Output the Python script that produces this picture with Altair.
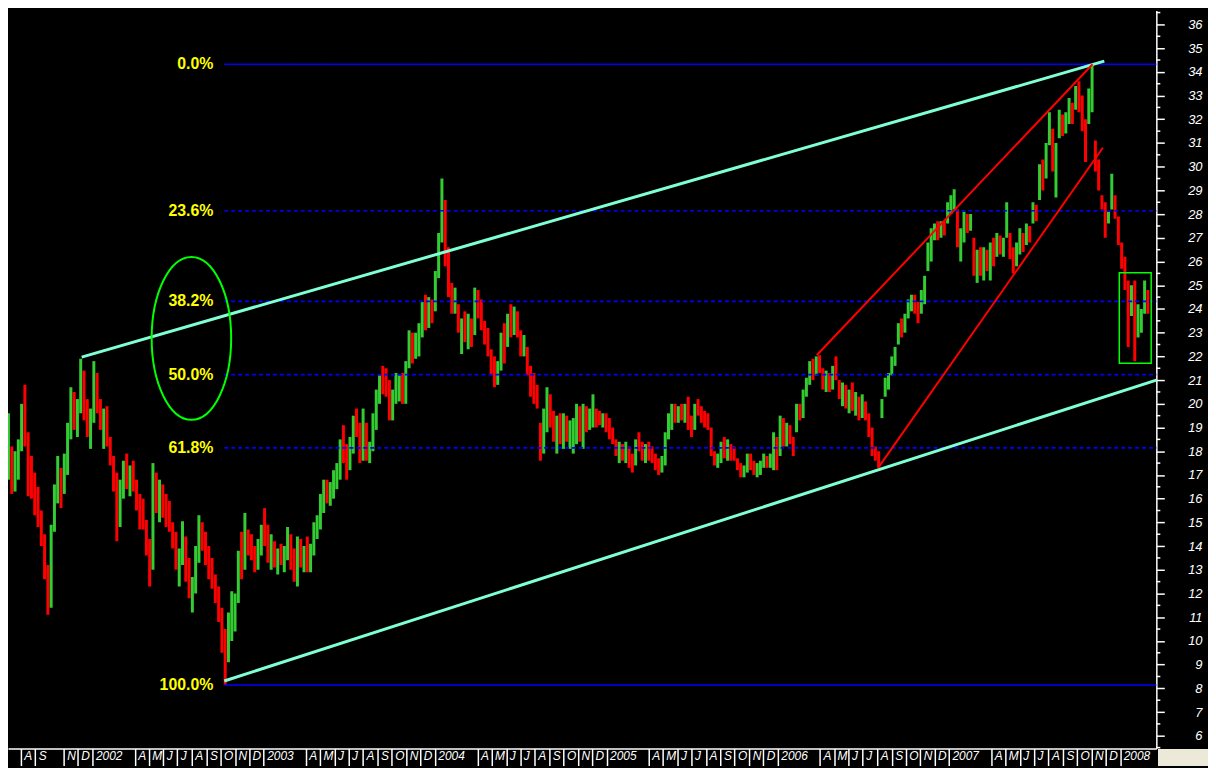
import altair as alt
import pandas as pd

# ---------------- weekly price bars ----------------
first_week = "2001-06-22"

low = [
    16.6, 16.4, 16.8, 16.2, 16.3, 16.8, 18.0, 18.2, 16.1, 16.0,
    15.3, 14.8, 14.0, 12.6, 11.1, 11.4, 14.6, 15.8, 15.6, 16.2,
    17.0, 18.5, 18.9, 18.6, 19.6, 19.3, 18.6, 18.1, 19.2, 19.6,
    18.9, 18.1, 18.2, 17.4, 16.3, 14.2, 14.8, 16.0, 16.4, 16.1,
    16.3, 15.5, 14.7, 14.7, 13.6, 12.3, 13.0, 15.4, 15.0, 15.2,
    14.8, 14.6, 13.9, 13.0, 12.3, 13.2, 12.5, 11.8, 11.2, 12.0,
    13.3, 13.8, 13.2, 12.6, 12.2, 11.6, 10.8, 9.5, 8.14, 9.1,
    10.0, 10.4, 11.6, 12.6, 13.0, 13.6, 13.4, 12.9, 13.0, 13.6,
    14.0, 13.3, 13.0, 13.1, 12.8, 13.2, 12.9, 13.4, 13.0, 12.5,
    12.3, 13.1, 12.9, 12.9, 12.9, 13.6, 14.3, 14.7, 15.4, 15.8,
    15.7, 16.0, 16.4, 16.8, 17.5, 16.8, 17.2, 17.9, 18.6, 17.5,
    17.6, 17.6, 17.5, 18.0, 18.9, 20.0, 20.4, 20.3, 19.3, 19.3,
    20.0, 20.1, 20.0, 20.0, 21.5, 21.7, 21.9, 22.0, 22.8, 23.1,
    23.2, 23.4, 23.9, 25.3, 26.8, 25.8, 24.5, 23.8, 23.8, 23.0,
    22.1, 22.6, 22.3, 22.4, 22.9, 23.6, 23.1, 22.5, 22.0, 21.2,
    20.7, 20.8, 21.4, 21.7, 22.4, 22.8, 22.9, 22.8, 22.0, 22.0,
    21.2, 20.3, 20.0, 19.8, 17.6, 17.9, 18.8, 19.0, 18.4, 17.9,
    18.3, 18.1, 18.4, 18.1, 17.9, 18.3, 18.4, 18.1, 18.8, 18.9,
    19.0, 19.0, 19.1, 19.0, 18.8, 18.5, 18.3, 17.8, 17.5, 17.6,
    17.5, 17.3, 17.1, 17.4, 18.0, 17.6, 17.5, 17.6, 17.5, 17.2,
    17.0, 17.1, 17.4, 18.5, 18.9, 19.2, 19.2, 19.3, 19.2, 18.9,
    18.6, 18.9, 19.5, 19.2, 19.0, 18.9, 17.8, 17.4, 17.3, 17.5,
    17.7, 17.6, 17.6, 17.6, 17.2, 16.9, 16.9, 17.1, 17.2, 17.0,
    16.9, 17.0, 17.3, 17.3, 17.3, 17.2, 17.2, 17.8, 18.2, 18.2,
    18.3, 17.8, 18.8, 19.3, 19.4, 20.3, 20.8, 21.0, 21.2, 21.3,
    20.6, 20.5, 20.5, 20.6, 21.0, 20.2, 19.9, 19.8, 19.6, 19.7,
    19.5, 19.3, 19.4, 19.3, 18.6, 17.8, 17.6, 17.3, 19.4, 20.3,
    20.6, 21.2, 21.6, 22.5, 22.8, 23.0, 23.6, 23.9, 23.8, 23.4,
    23.8, 24.2, 25.6, 26.0, 26.9, 26.9, 27.0, 27.1, 27.6, 28.0,
    28.2, 26.6, 26.0, 26.8, 27.2, 27.3, 25.4, 25.1, 25.4, 25.2,
    25.6, 25.2, 25.8, 26.2, 26.3, 26.2, 27.0, 26.1, 25.5, 25.8,
    26.3, 26.4, 26.7, 26.8, 27.6, 27.7, 28.6, 29.0, 29.5, 30.9,
    29.8, 28.7, 31.2, 31.3, 31.4, 31.8, 31.8, 32.4, 32.3, 31.5,
    30.2, 31.8, 32.3, 29.8, 29.0, 28.2, 27.0, 27.6, 28.2, 27.8,
    26.7, 25.7, 24.8, 22.4, 23.7, 21.8, 22.8, 23.0, 23.8, 23.8,
]

high = [
    20.3, 19.2, 19.6, 18.2, 18.0, 18.5, 20.0, 20.8, 18.8, 17.8,
    17.1, 16.5, 15.5, 14.5, 13.2, 14.9, 16.6, 17.8, 17.3, 17.9,
    19.2, 20.7, 20.5, 20.2, 21.9, 21.4, 20.2, 19.8, 21.8, 21.3,
    20.2, 19.8, 19.9, 18.6, 17.8, 17.1, 16.8, 17.6, 17.9, 17.4,
    17.6, 16.8, 16.2, 16.0, 15.1, 14.3, 17.5, 17.1, 16.8, 16.6,
    16.2, 15.9, 15.0, 14.6, 13.9, 15.05, 14.4, 13.5, 12.7, 14.0,
    15.3, 15.0, 14.6, 14.0, 13.5, 12.8, 12.3, 11.4, 10.5, 11.2,
    12.1, 12.0, 13.8, 14.6, 15.4, 14.7, 14.5, 14.0, 14.3, 14.9,
    15.6, 14.9, 14.5, 14.2, 13.9, 14.1, 14.0, 14.8, 14.5, 13.9,
    14.4, 14.3, 14.0, 14.4, 14.1, 15.0, 15.3, 16.2, 16.8, 16.8,
    16.7, 17.2, 17.5, 18.5, 19.1, 18.3, 18.6, 19.5, 19.8, 19.2,
    19.8, 19.2, 18.4, 19.6, 20.6, 21.2, 21.6, 21.5, 21.0, 20.6,
    21.3, 21.2, 21.3, 21.8, 23.1, 23.0, 23.0, 23.4, 24.3, 24.6,
    24.5, 24.4, 25.6, 27.2, 29.5, 28.6, 26.6, 25.1, 24.9, 24.2,
    23.6, 23.9, 23.8, 23.6, 24.9, 24.8, 24.4, 23.5, 23.2, 22.3,
    22.0, 21.8, 23.0, 23.4, 23.8, 24.2, 24.1, 23.9, 23.1, 22.9,
    22.4, 21.6, 21.3, 20.8, 19.2, 19.8, 20.7, 20.4, 19.7, 19.5,
    19.6, 19.6, 19.5, 19.3, 19.4, 20.0, 19.9, 20.0, 19.9, 19.8,
    20.4, 19.8, 19.7, 19.6, 19.6, 19.4, 19.0, 18.5, 18.4, 18.3,
    18.4, 18.2, 17.9, 18.5, 18.8, 18.4, 18.3, 18.4, 18.2, 17.9,
    17.7, 17.8, 18.8, 19.6, 20.0, 20.0, 19.9, 20.0, 20.0, 20.3,
    19.5, 20.0, 20.2, 19.9, 19.7, 19.6, 19.0, 18.0, 17.9, 18.4,
    18.6, 18.5, 18.3, 18.2, 17.7, 17.5, 17.4, 17.9, 17.9, 17.6,
    17.5, 17.6, 17.9, 17.8, 17.9, 18.8, 18.6, 19.5, 19.4, 19.2,
    19.1, 18.6, 20.0, 20.0, 20.6, 21.1, 21.8, 21.9, 22.0, 22.05,
    21.5, 21.4, 21.3, 21.6, 22.0, 21.0, 20.9, 20.8, 20.6, 20.9,
    20.5, 20.3, 20.4, 20.1, 19.6, 19.0, 18.2, 18.0, 20.2, 21.1,
    21.3, 22.0, 22.4, 23.4, 23.6, 23.8, 24.4, 24.6, 24.6, 24.3,
    24.8, 25.4, 26.8, 27.4, 27.6, 27.7, 27.7, 27.7, 28.5, 28.8,
    29.05, 28.2, 27.4, 28.1, 28.0, 28.0, 27.0, 26.5, 26.6, 26.6,
    26.5, 26.8, 27.0, 27.2, 27.1, 27.0, 28.5, 27.2, 26.6, 26.8,
    27.4, 27.2, 27.6, 27.5, 28.5, 28.4, 30.1, 30.3, 31.0, 32.3,
    31.6, 31.0, 32.4, 32.2, 32.3, 32.9, 32.7, 33.4, 33.6, 33.0,
    32.0, 33.3, 34.32, 31.1, 30.3, 28.8, 28.5, 28.1, 29.7, 28.8,
    27.9, 26.8, 26.2, 25.2, 25.0, 25.2, 24.2, 24.0, 25.2, 24.8,
]

close = [
    19.0, 16.9, 17.5, 17.0, 17.6, 18.2, 19.6, 18.6, 17.0, 16.5,
    15.8, 15.0, 14.3, 12.9, 11.6, 14.5, 16.2, 17.2, 16.8, 17.6,
    18.9, 20.1, 19.4, 19.8, 21.2, 19.8, 18.9, 19.4, 21.0, 20.0,
    19.2, 19.5, 18.5, 17.6, 16.6, 15.0, 16.5, 17.1, 16.8, 16.9,
    16.6, 15.8, 15.2, 15.0, 14.0, 13.2, 16.8, 15.8, 16.3, 15.6,
    15.1, 14.9, 14.2, 13.4, 13.5, 14.2, 12.9, 12.1, 12.4, 13.8,
    14.8, 14.1, 13.5, 13.0, 12.5, 12.0, 11.2, 9.9, 9.8, 10.8,
    11.0, 11.8, 13.5, 13.1, 14.8, 14.0, 13.6, 13.2, 14.0, 14.6,
    14.3, 13.6, 13.9, 13.4, 13.6, 13.5, 13.8, 14.2, 13.3, 13.0,
    13.9, 13.4, 13.7, 13.2, 13.8, 14.8, 15.1, 15.9, 16.4, 16.0,
    16.3, 16.9, 17.2, 18.2, 18.0, 17.4, 18.3, 19.2, 19.0, 17.9,
    19.5, 18.0, 18.2, 19.4, 20.3, 21.0, 20.9, 20.6, 19.6, 20.3,
    20.4, 20.8, 20.5, 21.6, 22.8, 22.1, 22.6, 23.1, 24.0, 23.5,
    24.2, 23.7, 25.3, 26.9, 28.0, 26.3, 25.0, 24.3, 24.6, 23.3,
    23.3, 22.9, 23.5, 22.8, 24.6, 23.9, 23.4, 22.8, 22.3, 21.5,
    21.2, 21.6, 22.7, 22.3, 23.6, 23.2, 23.8, 23.0, 22.3, 22.4,
    21.5, 20.6, 20.4, 20.1, 18.2, 19.5, 20.2, 19.3, 18.7, 19.1,
    18.6, 19.3, 18.7, 18.9, 19.1, 19.7, 18.8, 19.6, 19.2, 19.5,
    19.7, 19.4, 19.3, 19.5, 19.1, 18.7, 18.5, 18.0, 18.2, 17.8,
    18.1, 17.6, 17.3, 18.3, 18.2, 17.9, 18.0, 17.8, 17.7, 17.4,
    17.2, 17.6, 18.6, 19.3, 19.7, 19.5, 19.6, 19.5, 19.8, 19.0,
    18.9, 19.8, 19.7, 19.4, 19.2, 19.1, 18.0, 17.6, 17.7, 18.2,
    17.9, 18.1, 17.8, 17.7, 17.3, 17.1, 17.2, 17.7, 17.4, 17.2,
    17.3, 17.4, 17.6, 17.5, 17.8, 18.5, 17.5, 19.2, 18.6, 18.9,
    18.5, 18.2, 19.8, 19.6, 20.4, 20.9, 21.5, 21.3, 21.8, 21.6,
    20.8, 21.1, 20.8, 21.4, 21.3, 20.4, 20.6, 20.1, 20.3, 20.0,
    20.2, 19.6, 20.0, 19.5, 18.9, 18.1, 17.8, 17.5, 20.0, 20.9,
    21.1, 21.8, 22.2, 23.2, 23.0, 23.6, 24.2, 24.3, 24.0, 23.7,
    24.6, 25.2, 26.5, 26.8, 27.3, 27.1, 27.5, 27.4, 28.2, 28.4,
    28.5, 26.9, 27.1, 27.8, 27.5, 27.6, 25.8, 26.2, 25.7, 26.3,
    25.9, 26.5, 26.3, 26.9, 26.6, 26.8, 27.5, 26.4, 26.0, 26.5,
    27.1, 26.7, 27.3, 27.2, 28.3, 28.0, 29.8, 29.4, 30.8, 31.6,
    30.2, 30.7, 32.0, 31.6, 32.1, 32.4, 32.3, 33.1, 32.8, 31.9,
    31.6, 32.9, 33.6, 30.2, 29.4, 28.5, 27.4, 27.9, 29.3, 28.0,
    27.0, 26.0, 25.2, 23.8, 24.5, 22.9, 23.5, 23.8, 24.9, 24.2,
]

# ---------------- Fibonacci retracement levels ----------------
fib_labels = ["0.0%", "23.6%", "38.2%", "50.0%", "61.8%", "100.0%"]
fib_values = [34.32, 28.14, 24.32, 21.23, 18.14, 8.14]
fib_styles = ["solid", "dashed", "dashed", "dashed", "dashed", "solid"]
fib_start = "2002-10-09"
fib_end = "2008-03-18"
fib_label_date = "2002-09-16"

# ---------------- channel and trend lines ----------------
channel_names = ["upper", "upper", "lower", "lower"]
channel_dates = ["2001-12-09", "2007-11-28", "2002-10-09", "2008-03-18"]
channel_prices = [21.97, 34.45, 8.31, 21.0]

trend_names = ["t1", "t1", "t2", "t2"]
trend_dates = ["2006-03-25", "2007-11-03", "2006-08-03", "2007-11-25"]
trend_prices = [22.05, 34.32, 17.3, 30.8]

# ---------------- annotations ----------------
ellipse_dates = ["2002-07-31"]
ellipse_prices = [22.76]
box_dates = ["2007-12-30", "2008-03-07"]
box_prices = [25.53, 21.71]

y_ticks = list(range(6, 37))
y_minor = [v + 0.5 for v in range(5, 37)]

# ---------------- tables ----------------
dates = pd.date_range(first_week, periods=len(low), freq="7D").strftime("%Y-%m-%d")
prev_close = [close[0]] + close[:-1]
bars = pd.DataFrame({
    "date": dates, "low": low, "high": high, "close": close,
    "dir": ["up" if c >= p else "down" for c, p in zip(close, prev_close)],
})
fib = pd.DataFrame({
    "label": fib_labels, "price": fib_values, "style": fib_styles,
    "date": fib_start, "date2": fib_end, "ldate": fib_label_date,
})
channel = pd.DataFrame({"name": channel_names, "date": channel_dates, "price": channel_prices})
trend = pd.DataFrame({"name": trend_names, "date": trend_dates, "price": trend_prices})
ellipse = pd.DataFrame({"date": ellipse_dates, "price": ellipse_prices})
box = pd.DataFrame({"date": [box_dates[0]], "date2": [box_dates[1]],
                    "price": [box_prices[0]], "price2": [box_prices[1]]})
minor = pd.DataFrame({"price": y_minor})

# ---------------- scales and axes ----------------
# page has an 8px margin: plot spans page x 8..1164 and page y 8..751
W, H = 1156, 743
x_scale = alt.Scale(type="utc", domain=[
    alt.DateTime(year=2001, month=7, date=5, utc=True),
    alt.DateTime(year=2008, month=3, date=18, utc=True)])
y_scale = alt.Scale(domain=[5.459, 36.587], nice=False, zero=False)

month_ticks = []
for yr in range(2001, 2009):
    for mo in range(1, 13):
        if (yr, mo) < (2001, 8) or (yr, mo) > (2008, 1):
            continue
        if mo in (2, 3) or (yr, mo) == (2001, 10):
            continue
        month_ticks.append(alt.DateTime(year=yr, month=mo, date=1, utc=True))

x_axis = alt.Axis(
    orient="bottom", values=month_ticks, grid=False, title=None,
    labelExpr="utcmonth(datum.value) == 0 ? utcFormat(datum.value, '%Y') : slice(utcFormat(datum.value, '%b'), 0, 1)",
    domainColor="white", domainWidth=1.5, tickColor="white", tickSize=17, tickWidth=1.5,
    labelColor="white", labelFont="Liberation Sans", labelFontSize=12, labelFontStyle="italic",
    labelAlign="left", labelBaseline="top", labelPadding=-15, labelOffset=3,
    labelOverlap=False, labelFlush=False, labelBound=False)
y_axis = alt.Axis(
    orient="right", values=y_ticks, grid=False, title=None,
    domainColor="white", domainWidth=1.5, tickColor="white", tickSize=8, tickWidth=1.5,
    labelColor="white", labelFont="Liberation Sans", labelFontSize=13, labelFontStyle="italic",
    labelAlign="right", labelBaseline="middle", labelPadding=38, labelOverlap=False)

x_enc = alt.X("date:T", scale=x_scale, axis=x_axis, title=None)
y_enc = alt.Y("price:Q", scale=y_scale, axis=y_axis, title=None)

# ---------------- layers ----------------
corner = alt.Chart(minor).mark_rect(color="#ECE9D8", clip=False).encode(
    x=alt.value(W + 2), x2=alt.value(W + 52), y=alt.value(H + 1), y2=alt.value(H + 17))

bar_layer = alt.Chart(bars).mark_rule(strokeWidth=3, clip=True).encode(
    x=x_enc,
    y=alt.Y("low:Q", scale=y_scale, axis=y_axis, title=None),
    y2="high:Q",
    color=alt.Color("dir:N", scale=alt.Scale(domain=["up", "down"], range=["#33CC33", "#FF0000"]),
                    legend=None))

fib_layer = alt.Chart(fib).mark_rule(color="#0000FF", strokeWidth=1.6).encode(
    x=x_enc, x2="date2:T", y=y_enc,
    strokeDash=alt.StrokeDash("style:N", scale=alt.Scale(domain=["solid", "dashed"],
                                                          range=[[1, 0], [4, 3]]), legend=None))

fib_text = alt.Chart(fib).mark_text(
    align="right", baseline="middle", font="Liberation Sans", fontSize=16,
    fontWeight="bold", color="#FFFF00").encode(
    x=alt.X("ldate:T", scale=x_scale, axis=x_axis, title=None), y=y_enc, text="label:N")

channel_layer = alt.Chart(channel).mark_line(color="#7FFFD4", strokeWidth=3).encode(
    x=x_enc, y=y_enc, detail="name:N")

trend_layer = alt.Chart(trend).mark_line(color="#FF0000", strokeWidth=2).encode(
    x=x_enc, y=y_enc, detail="name:N")

ellipse_layer = alt.Chart(ellipse).mark_point(
    shape="M -0.488 0 A 0.488 1 0 1 0 0.488 0 A 0.488 1 0 1 0 -0.488 0 Z",
    size=26896, filled=False, stroke="#00FF00", strokeWidth=2, opacity=1).encode(
    x=x_enc, y=y_enc)

box_layer = alt.Chart(box).mark_rect(fillOpacity=0, stroke="#00FF00", strokeWidth=1.5).encode(
    x=x_enc, x2="date2:T", y=y_enc, y2="price2:Q")

minor_layer = alt.Chart(minor).mark_rule(color="white", strokeWidth=1.5, clip=False).encode(
    x=alt.value(W), x2=alt.value(W + 4), y=y_enc)

chart = alt.layer(
    corner, bar_layer, fib_layer, channel_layer, trend_layer,
    ellipse_layer, box_layer, fib_text, minor_layer
).properties(
    width=W, height=H,
    padding={"left": 0, "top": 0, "right": 52, "bottom": 17},
    autosize=alt.AutoSizeParams(type="none"),
    background="black",
).configure_view(strokeWidth=0)

chart.save("out.html", embed_options={"renderer": "svg", "actions": False})
